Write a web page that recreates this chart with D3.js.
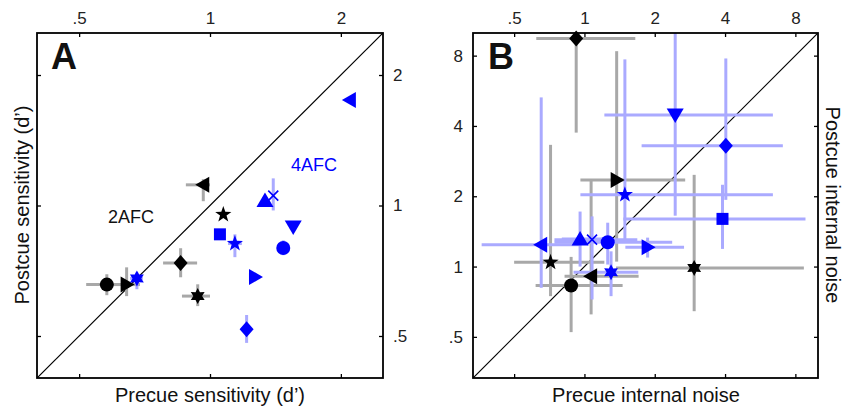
<!DOCTYPE html>
<html><head><meta charset="utf-8">
<script src="https://cdn.jsdelivr.net/npm/d3@7/dist/d3.min.js"></script>
<style>
html,body{margin:0;padding:0;background:#fff;}
svg{display:block;font-family:"Liberation Sans",Arial,Helvetica,sans-serif;}
</style></head>
<body><svg id="c" width="844" height="412"></svg>
<script>
// ---------- Panel A data (sensitivity, d') ----------
const tickValuesA = [0.5, 1, 2];
const shapesA  = ["circle","right","hexagram","diamond","hexagram","left","star","square","star","up","x","down","circle","right","diamond","left"];
const groupsA  = ["2AFC","2AFC","4AFC","2AFC","2AFC","2AFC","2AFC","4AFC","4AFC","4AFC","4AFC","4AFC","4AFC","4AFC","4AFC","4AFC"];
const precueA  = [0.579,0.643,0.679,0.856,0.937,0.965,1.073,1.054,1.141,1.338,1.398,1.554,1.474,1.269,1.214,2.098];
const postcueA = [0.657,0.657,0.679,0.737,0.618,1.116,0.953,0.858,0.817,1.027,1.054,0.892,0.798,0.684,0.518,1.752];
const precueLoA  = [0.519,0.602,0.655,0.780,0.862,0.880,1.073,1.054,1.100,1.338,1.398,1.554,1.474,1.269,1.178,2.098];
const precueHiA  = [0.644,0.690,0.701,0.934,1.000,1.000,1.073,1.054,1.184,1.338,1.398,1.554,1.474,1.269,1.249,2.098];
const postcueLoA = [0.621,0.618,0.641,0.683,0.586,1.023,0.953,0.858,0.760,1.027,0.974,0.892,0.768,0.684,0.482,1.752];
const postcueHiA = [0.694,0.720,0.701,0.797,0.658,1.150,0.953,0.858,0.858,1.027,1.155,0.892,0.831,0.684,0.559,1.752];

// ---------- Panel B data (internal noise) ----------
const tickValuesB = [0.5, 1, 2, 4, 8];
const shapesB  = ["diamond","right","hexagram","star","circle","left","down","diamond","square","star","right","circle","hexagram","x","up","left"];
const groupsB  = ["2AFC","2AFC","2AFC","2AFC","2AFC","2AFC","4AFC","4AFC","4AFC","4AFC","4AFC","4AFC","4AFC","4AFC","4AFC","4AFC"];
const precueB  = [0.922,1.374,2.95,0.716,0.877,1.068,2.447,4.03,3.90,1.49,1.864,1.258,1.30,1.078,0.958,0.653];
const postcueB = [9.47,2.35,0.987,1.043,0.83,0.909,4.46,3.29,1.60,2.03,1.209,1.27,0.946,1.304,1.313,1.241];
const precueLoB  = [0.622,0.961,1.366,0.50,0.618,0.822,1.217,1.757,1.467,0.961,1.497,0.744,0.898,0.744,0.80,0.363];
const precueHiB  = [1.651,2.70,8.70,1.217,1.457,1.706,6.41,7.07,8.84,6.41,2.67,2.375,1.70,1.684,1.30,0.952];
const postcueLoB = [3.745,1.05,0.644,0.747,0.524,0.624,1.651,1.93,1.19,1.28,1.093,1.02,0.747,0.723,1.0,0.811];
const postcueHiB = [16,8.36,2.47,3.32,1.10,2.35,12,7.78,2.24,7.71,1.33,1.541,1.162,1.64,1.72,5.30];

const colors = {"2AFC":"#000000","4AFC":"#0000ff"};
const barColors = {"2AFC":"#a8a8a8","4AFC":"#aaaaff"};

const svg = d3.select("#c");
const fmt = v => v < 1 ? String(v).replace(/^0/,"") : String(v);

function markerPath(shape){
  const p = d3.path();
  const poly = pts => { p.moveTo(pts[0][0],pts[0][1]); pts.slice(1).forEach(q=>p.lineTo(q[0],q[1])); p.closePath(); };
  switch(shape){
    case "circle": p.arc(0,0,7,0,2*Math.PI); break;
    case "square": p.rect(-6,-6,12,12); break;
    case "diamond": poly([[0,-8],[7,0],[0,8],[-7,0]]); break;
    case "right": poly([[-6,-8],[8,0],[-6,8]]); break;
    case "left": poly([[6,-8],[-8,0],[6,8]]); break;
    case "up": poly([[0,-8],[8.5,6.5],[-8.5,6.5]]); break;
    case "down": poly([[0,8],[8.5,-6.5],[-8.5,-6.5]]); break;
    case "star": {
      const pts=[]; for(let i=0;i<10;i++){const r=i%2?3.4:8.5; const a=-Math.PI/2+i*Math.PI/5; pts.push([r*Math.cos(a),r*Math.sin(a)]);} poly(pts); break; }
    case "hexagram": {
      const pts=[]; for(let i=0;i<12;i++){const r=i%2?4.4:8; const a=-Math.PI/2+i*Math.PI/6; pts.push([r*Math.cos(a),r*Math.sin(a)]);} poly(pts); break; }
    case "x": p.moveTo(-5,-5); p.lineTo(5,5); p.moveTo(5,-5); p.lineTo(-5,5); break;
  }
  return p.toString();
}

function panel(cfg){
  const {x0,x1,y0,y1,domain,shapes,groups,px,py,pxLo,pxHi,pyLo,pyHi,id} = cfg;
  const x = d3.scaleLog().domain(domain).range([x0,x1]);
  const y = d3.scaleLog().domain(domain).range([y1,y0]);
  const g = svg.append("g");
  g.append("clipPath").attr("id","clip"+id).append("rect")
    .attr("x",x0).attr("y",y0).attr("width",x1-x0).attr("height",y1-y0);
  const plot = g.append("g").attr("clip-path","url(#clip"+id+")");
  plot.append("line").attr("x1",x(domain[0])).attr("y1",y(domain[0]))
    .attr("x2",x(domain[1])).attr("y2",y(domain[1]))
    .attr("stroke","#000").attr("stroke-width",1.2);
  const idx = d3.range(px.length);
  ["2AFC","4AFC"].forEach(grp=>{
    idx.filter(i=>groups[i]===grp).forEach(i=>{
      plot.append("line").attr("x1",x(pxLo[i])).attr("x2",x(pxHi[i])).attr("y1",y(py[i])).attr("y2",y(py[i]))
        .attr("stroke",barColors[grp]).attr("stroke-width",3);
      plot.append("line").attr("x1",x(px[i])).attr("x2",x(px[i])).attr("y1",y(pyLo[i])).attr("y2",y(pyHi[i]))
        .attr("stroke",barColors[grp]).attr("stroke-width",3);
    });
  });
  ["2AFC","4AFC"].forEach(grp=>{
    idx.filter(i=>groups[i]===grp).forEach(i=>{
      const isX = shapes[i]==="x";
      g.append("path").attr("d",markerPath(shapes[i]))
        .attr("transform",`translate(${x(px[i])},${y(py[i])})`)
        .attr("fill",isX?"none":colors[grp])
        .attr("stroke",colors[grp]).attr("stroke-width",isX?1.6:0);
    });
  });
  g.append("rect").attr("x",x0).attr("y",y0).attr("width",x1-x0).attr("height",y1-y0)
    .attr("fill","none").attr("stroke","#000").attr("stroke-width",1.8);
  return {g,x,y};
}

function styleAxis(sel){
  sel.select(".domain").remove();
  sel.selectAll(".tick line").attr("stroke","#000").attr("stroke-width",1.3);
  sel.selectAll(".tick text").attr("fill","#222").style("font-size","17px")
     .style("font-family",'"Liberation Sans",Arial,sans-serif');
}

// ----- Panel A -----
const A = panel({id:"A",x0:37,x1:383,y0:33,y1:378,domain:[0.4,2.5],
  shapes:shapesA,groups:groupsA,px:precueA,py:postcueA,pxLo:precueLoA,pxHi:precueHiA,pyLo:postcueLoA,pyHi:postcueHiA});
A.g.append("g").attr("transform","translate(0,33)")
  .call(d3.axisTop(A.x).tickValues(tickValuesA).tickFormat(fmt).tickSize(-4).tickPadding(9)).call(styleAxis);
A.g.append("g").attr("transform","translate(0,378)")
  .call(d3.axisBottom(A.x).tickValues(tickValuesA).tickFormat("").tickSize(-4)).call(styleAxis);
A.g.append("g").attr("transform","translate(383,0)")
  .call(d3.axisRight(A.y).tickValues(tickValuesA).tickFormat(fmt).tickSize(-4).tickPadding(10)).call(styleAxis);
A.g.append("g").attr("transform","translate(37,0)")
  .call(d3.axisLeft(A.y).tickValues(tickValuesA).tickFormat("").tickSize(-4)).call(styleAxis);
svg.append("text").attr("x",51).attr("y",69).text("A")
  .style("font-size","36px").style("font-weight","bold").attr("fill","#111");
svg.append("text").attr("x",131).attr("y",223).attr("text-anchor","middle").text("2AFC")
  .style("font-size","18px").attr("fill","#111");
svg.append("text").attr("x",314).attr("y",171).attr("text-anchor","middle").text("4AFC")
  .style("font-size","18px").attr("fill","#0000ff");
svg.append("text").attr("x",210).attr("y",402).attr("text-anchor","middle").text("Precue sensitivity (d’)")
  .style("font-size","20px").attr("fill","#111");
svg.append("text").attr("transform","translate(29,205) rotate(-90)").attr("text-anchor","middle")
  .text("Postcue sensitivity (d’)").style("font-size","20px").attr("fill","#111");

// ----- Panel B -----
const B = panel({id:"B",x0:473,x1:818,y0:33,y1:378,domain:[1/3,10],
  shapes:shapesB,groups:groupsB,px:precueB,py:postcueB,pxLo:precueLoB,pxHi:precueHiB,pyLo:postcueLoB,pyHi:postcueHiB});
B.g.append("g").attr("transform","translate(0,33)")
  .call(d3.axisTop(B.x).tickValues(tickValuesB).tickFormat(fmt).tickSize(-4).tickPadding(9)).call(styleAxis);
B.g.append("g").attr("transform","translate(0,378)")
  .call(d3.axisBottom(B.x).tickValues(tickValuesB).tickFormat("").tickSize(-4)).call(styleAxis);
B.g.append("g").attr("transform","translate(473,0)")
  .call(d3.axisLeft(B.y).tickValues(tickValuesB).tickFormat(fmt).tickSize(-4).tickPadding(10)).call(styleAxis);
B.g.append("g").attr("transform","translate(818,0)")
  .call(d3.axisRight(B.y).tickValues(tickValuesB).tickFormat("").tickSize(-4)).call(styleAxis);
svg.append("text").attr("x",488).attr("y",69).text("B")
  .style("font-size","36px").style("font-weight","bold").attr("fill","#111");
svg.append("text").attr("x",646).attr("y",402).attr("text-anchor","middle").text("Precue internal noise")
  .style("font-size","20px").attr("fill","#111");
svg.append("text").attr("transform","translate(826,205) rotate(90)").attr("text-anchor","middle")
  .text("Postcue internal noise").style("font-size","20px").attr("fill","#111");
</script></body></html>
